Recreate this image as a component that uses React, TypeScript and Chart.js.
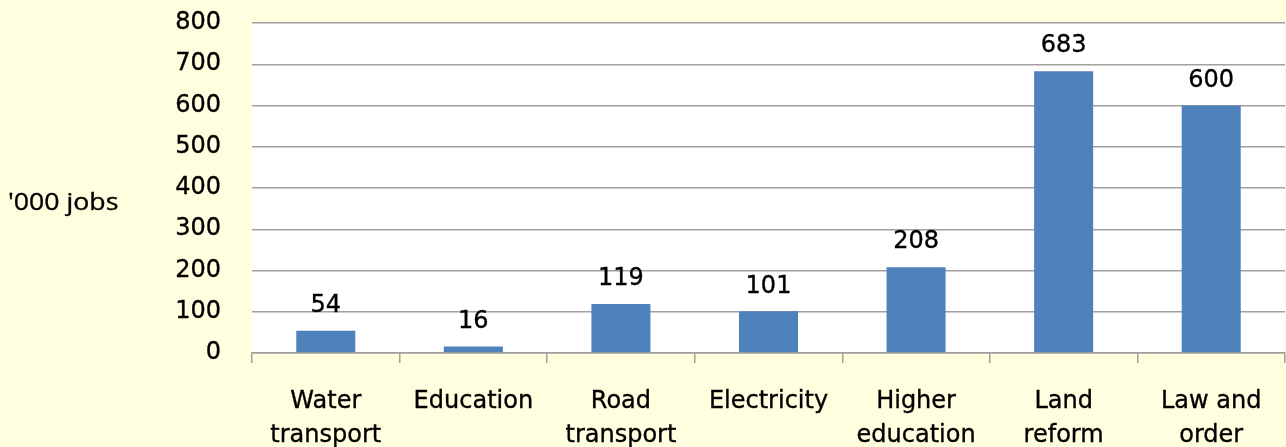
import React, { useEffect, useRef } from "react";
import { Chart, registerables } from "chart.js";

Chart.register(...registerables);

const categories: string[][] = [
  ["Water", "transport"],
  ["Education"],
  ["Road", "transport"],
  ["Electricity"],
  ["Higher", "education"],
  ["Land", "reform"],
  ["Law and", "order"],
];
const jobs: number[] = [54, 16, 119, 101, 208, 683, 600];
const yMin = 0;
const yMax = 800;
const yStep = 100;
const yAxisTitle = "'000 jobs";

const PAGE_BG = "#FFFFE0";
const BAR = "#4F81BD";
const GRID = "#A0A0A0";
const FONT = "'DejaVu Sans', sans-serif";
const STROKE = 0.35;

const bgPlugin = {
  id: "bgPlugin",
  beforeDraw(chart: any) {
    const { ctx, chartArea, width, height } = chart;
    ctx.save();
    ctx.fillStyle = PAGE_BG;
    ctx.fillRect(0, 0, width, height);
    ctx.fillStyle = "#FFFFFF";
    ctx.fillRect(chartArea.left, chartArea.top, chartArea.right - chartArea.left, chartArea.bottom - chartArea.top);
    ctx.restore();
  },
};

const labelPlugin = {
  id: "labelPlugin",
  afterDatasetsDraw(chart: any) {
    const { ctx } = chart;
    const meta = chart.getDatasetMeta(0);
    ctx.save();
    ctx.fillStyle = "#000000";
    ctx.strokeStyle = "#000000";
    ctx.lineWidth = STROKE;
    ctx.font = "24px " + FONT;
    ctx.textAlign = "center";
    ctx.textBaseline = "middle";
    meta.data.forEach((bar: any, i: number) => {
      ctx.strokeText(String(jobs[i]), bar.x, bar.y - 25);
      ctx.fillText(String(jobs[i]), bar.x, bar.y - 25);
    });
    // axis title
    ctx.font = "23px 'Open Sans', sans-serif";
    ctx.textAlign = "left";
    ctx.translate(8, 203);
    ctx.scale(1.16, 1);
    ctx.strokeText(yAxisTitle, 0, 0);
    ctx.fillText(yAxisTitle, 0, 0);
    ctx.restore();
  },
};

export default function App() {
  const ref = useRef<HTMLCanvasElement | null>(null);
  useEffect(() => {
    if (!ref.current) return;
    const chart = new Chart(ref.current, {
      type: "bar",
      data: {
        labels: categories,
        datasets: [
          {
            data: jobs,
            backgroundColor: BAR,
            borderWidth: 0,
            barPercentage: 0.4,
            categoryPercentage: 1,
          },
        ],
      },
      options: {
        responsive: false,
        animation: false,
        devicePixelRatio: 1,
        layout: { padding: { left: 0, top: 23, right: 1, bottom: 0 } },
        plugins: { legend: { display: false }, tooltip: { enabled: false } },
        scales: {
          x: {
            offset: true,
            grid: {
              offset: true,
              drawOnChartArea: false,
              drawTicks: true,
              tickLength: 10,
              color: GRID,
              lineWidth: 1.5,
            },
            border: { display: true, color: GRID, width: 1.5 },
            ticks: {
              color: "#000000",
              textStrokeColor: "#000000",
              textStrokeWidth: STROKE,
              font: { family: FONT, size: 24, lineHeight: 1.4 },
              padding: 22,
              maxRotation: 0,
              autoSkip: false,
            },
            afterFit(scale: any) {
              scale.height = 94;
              scale.paddingLeft = 0;
              scale.paddingRight = 0;
            },
          },
          y: {
            min: yMin,
            max: yMax,
            border: { display: false },
            grid: { color: GRID, lineWidth: 1.5, drawTicks: false },
            ticks: {
              stepSize: yStep,
              color: "#000000",
              textStrokeColor: "#000000",
              textStrokeWidth: STROKE,
              font: { family: FONT, size: 24 },
              padding: 31,
            },
            afterFit(scale: any) {
              scale.width = 252;
              scale.paddingTop = 0;
              scale.paddingBottom = 0;
            },
          },
        },
      },
      plugins: [bgPlugin, labelPlugin],
    });
    return () => chart.destroy();
  }, []);
  return (
    <div style={{ position: "fixed", left: 0, top: 0, width: 1286, height: 447, background: PAGE_BG }}>
      <canvas ref={ref} width={1286} height={447} style={{ display: "block", width: 1286, height: 447 }} />
    </div>
  );
}
